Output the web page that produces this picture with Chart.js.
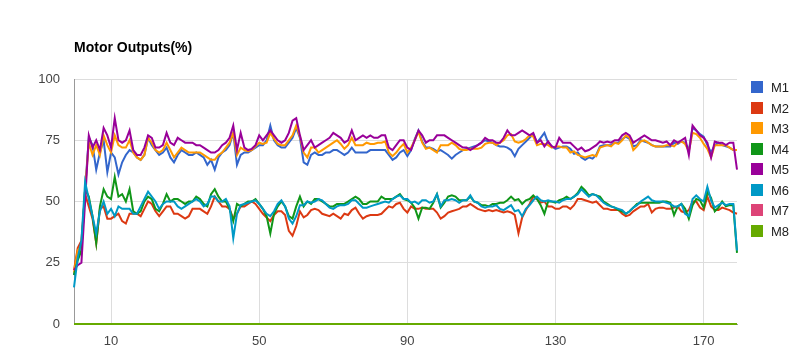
<!DOCTYPE html>
<html>
<head>
<meta charset="utf-8">
<title>Motor Outputs</title>
<script src="https://cdn.jsdelivr.net/npm/chart.js@4.4.1/dist/chart.umd.min.js"></script>
<style>
  html, body { margin: 0; padding: 0; background: #fff; }
</style>
</head>
<body>
<canvas id="chart" width="809" height="354"></canvas>
<script>
const chartTitle = 'Motor Outputs(%)';
const seriesNames = ['M1', 'M2', 'M3', 'M4', 'M5', 'M6', 'M7', 'M8'];
const seriesColors = ['#3366cc', '#dc3912', '#ff9900', '#109618', '#990099', '#0099c6', '#dd4477', '#66aa00'];
const xTicks = [10, 50, 90, 130, 170];
const yTicks = [0, 25, 50, 75, 100];

const m1 = [
  20, 28, 30, 55, 76, 73, 63, 70, 75, 62,
  70, 68, 61, 66, 69, 71, 70, 68, 67, 69,
  76, 73, 71, 69, 70, 72, 68, 66, 69, 71,
  70, 69, 69, 70, 69, 68, 65, 67, 63, 68,
  70, 71, 73, 78, 65, 69, 70, 70, 71, 72,
  73, 73, 75, 81, 75, 73, 72, 72, 74, 76,
  80, 76, 66, 65, 69, 70, 69, 69, 70, 70,
  71, 71, 70, 69, 70, 72, 70, 70, 70, 70,
  71, 71, 71, 71, 71, 69, 67, 68, 70, 71,
  68.5, 71, 75.5, 79, 74.5, 72, 72, 71.5, 70.5, 71,
  70, 69, 67.5, 69, 70, 71, 71.5, 72, 72.5, 73,
  74, 75, 74.5, 74, 73, 72.5, 72.5, 72, 71, 68.5,
  71.5, 73, 74.5, 76, 77.5, 74, 76, 78, 74, 72.5,
  71.5, 72, 72.5, 72.5, 71.5, 69.5, 70, 68, 67, 68,
  67.5, 69, 72.5, 73, 73, 73, 74, 74, 75.5, 76.5,
  75.5, 72.5, 73, 75, 74.5, 74, 73, 72.5, 72.5, 72.5,
  72.5, 72.5, 74, 73.5, 74.5, 74, 71, 80, 79, 77.5,
  76.5, 73, 70, 73, 74, 73, 72.5, 72, 71, 71
];

const m2 = [
  22, 31, 34, 53, 48, 43, 33, 47, 48, 43,
  43, 44, 45, 42, 41, 45, 45, 45, 44, 47,
  50, 49, 46, 44, 46, 48, 48, 45, 45, 44,
  43, 44, 47, 47, 47, 46, 45, 48, 52, 50,
  48, 48, 47, 43, 45, 48, 48, 49, 50, 49,
  47, 45, 43.5, 42, 44.5, 46, 46, 44.5, 38, 36,
  40, 46, 43.5, 44.5, 46.5, 47, 46.5, 45, 44.5, 44,
  45, 44, 43, 45, 44.5, 46.5, 47.5, 45, 43, 44,
  44.5, 44.5, 44.5, 45, 46.5, 48, 47.5, 49, 49.5, 47,
  45.5, 48, 47, 47, 47.5, 47, 47, 47, 45.5, 43,
  44, 45.5, 46, 46.5, 47, 48, 48, 49, 48, 47,
  46.5, 46, 46.5, 46, 46.5, 46, 45.5, 46, 45.5, 44.5,
  37, 43.5, 46.5, 49, 52, 51, 49.5, 50, 48, 48,
  47, 47, 48, 48, 47, 48.5, 51, 51, 50.5, 50,
  49.5, 50, 48.5, 47, 47, 46.5, 46.5, 46.5, 45, 44,
  44.5, 46, 47, 48, 48, 49, 45.5, 47, 47.5, 47.5,
  47, 47, 47.5, 48, 46, 45.5, 46.5, 50, 50, 47.5,
  46.5, 52, 48, 46.5, 46.5, 47.5, 47, 46.5, 45.5, 45
];

const m3 = [
  21, 30, 32, 55, 74, 69, 73, 69, 77, 73,
  70, 77, 73, 72, 72, 75, 70, 68, 67, 69,
  76, 74, 71, 70, 71, 74, 71, 68, 70, 72,
  71, 70, 70, 70, 70, 69, 68, 67, 67, 69,
  70, 72, 74, 78, 69, 72, 71, 70.5, 71, 72.5,
  74, 73.5, 74, 78, 75.5, 73.5, 73, 73, 75, 77,
  81, 76.5, 70, 68, 72, 72, 70, 71, 72, 73,
  74, 75, 73.5, 71.5, 73, 76, 73, 73, 73, 74,
  73.5, 73.5, 74, 74, 74.5, 70, 68.5, 70, 72, 73.5,
  70, 72, 75, 78.5, 74, 71.5, 72, 71, 70, 73,
  73, 73, 74, 73, 71.5, 71, 71, 71.5, 71.5, 71.5,
  72, 73.5, 74, 74, 73, 74, 75, 77, 77.5, 74.5,
  74, 74.5, 75.5, 77, 76.5, 73, 73.5, 73.5, 73, 72,
  72.5, 72.5, 72, 72, 70, 70.5, 69, 68.5, 68, 68.5,
  69, 68.5, 72, 72.5, 73, 72.5, 74, 73.5, 75, 77,
  76, 71, 72.5, 74.5, 75, 74, 73, 72.5, 72.5, 72.5,
  73, 73, 72.5, 74, 74.5, 73.5, 70.5, 78, 77.5, 76,
  73.5, 71.5, 68, 73, 73, 73, 73, 72, 71, 71
];

const m4 = [
  20, 26, 30, 55, 52, 44, 33, 48, 55, 52,
  51, 60, 52, 53, 50, 55, 46, 45, 46, 50,
  52, 51, 47, 46, 49, 53, 50, 51, 51, 50,
  49, 50, 50, 52, 51, 49, 48, 53, 55, 52,
  50, 50, 47, 42, 49, 48, 49, 50, 50, 51,
  49, 47, 44, 37, 45, 48, 50, 48, 44, 43,
  48, 52, 48, 50, 49, 51, 51, 50, 49, 48,
  48, 49, 49, 49, 50, 51, 52, 51, 49, 49,
  50, 50, 50, 52, 51, 51, 51, 52, 53, 51,
  50.5, 49.5, 47.5, 43, 47.5, 47.5, 47, 49.5, 53, 47.5,
  49.5, 52, 52.5, 52, 50.5, 50.5, 50.5, 52, 50, 49.5,
  48.5, 48.5, 48, 49, 49, 49.5, 49.5, 50.5, 52, 50.5,
  51, 49, 50.5, 51, 52.5, 51, 48.5, 45, 50, 50,
  49.5, 50.5, 51, 52, 51, 52, 53.5, 56, 54.5, 52.5,
  53, 52.5, 52, 50, 49, 48, 47.5, 46.5, 46, 45,
  46, 47.5, 49, 49.5, 49.5, 49.5, 49.5, 49.5, 49.5, 50,
  50, 49.5, 44.5, 48, 49, 47, 43, 48.5, 51, 50.5,
  47.5, 54, 51.5, 46, 47.5, 50, 48, 48.5, 48.5, 29
];

const m5 = [
  22, 24, 25, 50, 77, 72, 75, 71, 80, 77,
  72, 84, 75, 74, 75, 79, 71, 69, 69, 72,
  77, 76, 72, 72, 73, 78, 74, 73, 76, 75,
  74, 74, 74, 73, 73, 72, 71, 70, 70, 71,
  73, 74, 76, 81, 71, 78, 72, 71, 71.5, 73,
  77, 75, 77, 79, 77, 75, 74, 75, 78, 83,
  84, 77, 71, 73, 75, 72, 73, 74, 75, 76,
  78, 77, 76, 74, 75, 79, 75, 76, 77, 76,
  77, 76, 76, 77, 77, 72, 71, 73, 75, 75,
  72, 71, 75, 79, 77, 74, 75, 75, 77, 77,
  77, 76, 75, 74, 73, 72, 72, 71, 72, 73,
  74, 76, 75, 75, 74, 74, 76, 79, 77, 77,
  78, 79, 78, 77, 78, 74, 75, 72.5, 74.5, 72.5,
  72, 76, 74, 74, 74, 72.5, 71, 72, 70.5, 71,
  72, 73, 74.5, 74, 74.5, 74, 75, 75, 77, 78,
  77, 74, 75, 76, 77, 76, 75, 75, 74.5, 74,
  74.5, 73, 75, 74, 75, 76, 69, 81, 79, 77,
  76, 74, 68, 74.5, 74, 74, 73, 74, 74, 63
];

const m6 = [
  15, 27, 34, 58, 51, 44, 37, 46, 50, 45,
  47, 44, 48, 47, 47, 47, 45, 45, 48, 51,
  54, 52, 50, 47, 49, 50, 50, 50, 48, 47,
  48, 49, 50, 51, 50, 48, 49, 52, 52, 50,
  50, 51, 48, 35, 45, 48.5, 49, 49.5, 50, 50.5,
  49, 47, 45, 44, 46, 49, 50.5, 48, 43, 41,
  44, 48.5, 48.5, 50, 49.5, 50, 51, 50.5, 49, 47.5,
  47, 48, 48.5, 48.5, 49, 50.5, 50.5, 49, 47.5, 47.5,
  48, 48.5, 49, 49.5, 50, 49.5, 51, 52, 52.5, 51,
  51, 49.5, 50, 49, 50.5, 50.5, 49.5, 50, 53, 48,
  50.5, 50.5, 51, 50.5, 49.5, 50.5, 50.5, 52.5, 50, 49.5,
  48, 47.5, 48, 48, 48.5, 47, 46.5, 47.5, 48.5, 46,
  46.5, 44, 47, 48.5, 50.5, 52, 50.5, 50, 50.5, 50,
  50, 49.5, 50.5, 51, 51, 52, 53, 55, 53.5, 52,
  53, 52.5, 51, 49.5, 48.5, 48, 47.5, 47, 46.5, 45,
  46, 47.5, 48.5, 50, 51, 52, 50.5, 50, 50, 50,
  49.5, 49, 48, 48, 49, 45, 44, 51, 52.5, 51,
  50, 56, 50.5, 47.5, 48.5, 49.5, 48.5, 49, 49, 30
];

// M7 and M8 sit flat on zero the whole run
const m7 = [
  0, 0, 0, 0, 0, 0, 0, 0, 0, 0, 0, 0, 0, 0, 0, 0, 0, 0, 0, 0,
  0, 0, 0, 0, 0, 0, 0, 0, 0, 0, 0, 0, 0, 0, 0, 0, 0, 0, 0, 0,
  0, 0, 0, 0, 0, 0, 0, 0, 0, 0, 0, 0, 0, 0, 0, 0, 0, 0, 0, 0,
  0, 0, 0, 0, 0, 0, 0, 0, 0, 0, 0, 0, 0, 0, 0, 0, 0, 0, 0, 0,
  0, 0, 0, 0, 0, 0, 0, 0, 0, 0, 0, 0, 0, 0, 0, 0, 0, 0, 0, 0,
  0, 0, 0, 0, 0, 0, 0, 0, 0, 0, 0, 0, 0, 0, 0, 0, 0, 0, 0, 0,
  0, 0, 0, 0, 0, 0, 0, 0, 0, 0, 0, 0, 0, 0, 0, 0, 0, 0, 0, 0,
  0, 0, 0, 0, 0, 0, 0, 0, 0, 0, 0, 0, 0, 0, 0, 0, 0, 0, 0, 0,
  0, 0, 0, 0, 0, 0, 0, 0, 0, 0, 0, 0, 0, 0, 0, 0, 0, 0, 0, 0
];

const m8 = [
  0, 0, 0, 0, 0, 0, 0, 0, 0, 0, 0, 0, 0, 0, 0, 0, 0, 0, 0, 0,
  0, 0, 0, 0, 0, 0, 0, 0, 0, 0, 0, 0, 0, 0, 0, 0, 0, 0, 0, 0,
  0, 0, 0, 0, 0, 0, 0, 0, 0, 0, 0, 0, 0, 0, 0, 0, 0, 0, 0, 0,
  0, 0, 0, 0, 0, 0, 0, 0, 0, 0, 0, 0, 0, 0, 0, 0, 0, 0, 0, 0,
  0, 0, 0, 0, 0, 0, 0, 0, 0, 0, 0, 0, 0, 0, 0, 0, 0, 0, 0, 0,
  0, 0, 0, 0, 0, 0, 0, 0, 0, 0, 0, 0, 0, 0, 0, 0, 0, 0, 0, 0,
  0, 0, 0, 0, 0, 0, 0, 0, 0, 0, 0, 0, 0, 0, 0, 0, 0, 0, 0, 0,
  0, 0, 0, 0, 0, 0, 0, 0, 0, 0, 0, 0, 0, 0, 0, 0, 0, 0, 0, 0,
  0, 0, 0, 0, 0, 0, 0, 0, 0, 0, 0, 0, 0, 0, 0, 0, 0, 0, 0, 0
];

const seriesValues = [m1, m2, m3, m4, m5, m6, m7, m8];
// sample number of every reading, used as the x value
const samples = m1.map((_, i) => i);

Chart.defaults.font.family = 'Arial, "Liberation Sans", sans-serif';

// Title and legend are placed by hand like the original chart
const titleAndLegend = {
  id: 'titleAndLegend',
  afterDraw(chart) {
    const ctx = chart.ctx;
    ctx.save();
    ctx.textBaseline = 'middle';
    ctx.textAlign = 'left';
    ctx.font = 'bold 14px Arial, "Liberation Sans", sans-serif';
    ctx.fillStyle = '#000';
    ctx.fillText(chartTitle, 74, 48);

    ctx.font = '13px Arial, "Liberation Sans", sans-serif';
    seriesNames.forEach((name, i) => {
      const y = 87 + i * 20.5;
      ctx.fillStyle = seriesColors[i];
      ctx.fillRect(751, Math.round(y - 6), 12, 12);
      ctx.fillStyle = '#222';
      ctx.fillText(name, 771, Math.round(y) + 1);
    });
    ctx.restore();
  }
};

const datasets = seriesNames.map((name, i) => ({
  label: name,
  data: seriesValues[i],
  borderColor: seriesColors[i],
  backgroundColor: seriesColors[i],
  borderWidth: 2,
  pointRadius: 0,
  tension: 0,
  fill: false,
  clip: 2,                        // let the zero lines show full width on the baseline
  order: seriesNames.length - i,  // later series drawn on top
}));

const ctx = document.getElementById('chart').getContext('2d');
const motorChart = new Chart(ctx, {
  type: 'line',
  data: {
    labels: samples,
    datasets: datasets,
  },
  options: {
    responsive: false,
    animation: false,
    layout: {
      padding: { top: 79, right: 72, bottom: 0, left: 0 },
    },
    plugins: {
      legend: { display: false },
      title: { display: false },
      tooltip: { enabled: false },
    },
    scales: {
      x: {
        type: 'linear',
        min: 0,
        max: 179,
        afterBuildTicks: scale => {
          scale.ticks = xTicks.map(v => ({ value: v }));
        },
        afterFit: scale => {
          scale.height = 30;
        },
        grid: { color: '#dddddd', drawTicks: false },
        border: { color: '#999999' },
        ticks: {
          padding: 10,
          color: '#444444',
          font: { size: 13 },
          maxRotation: 0,
        },
      },
      y: {
        min: 0,
        max: 100,
        afterBuildTicks: scale => {
          scale.ticks = yTicks.map(v => ({ value: v }));
        },
        afterFit: scale => {
          scale.width = 74;
        },
        grid: { color: '#dddddd', drawTicks: false },
        border: { color: '#999999' },
        ticks: {
          padding: 14,
          color: '#444444',
          font: { size: 13 },
        },
      },
    },
  },
  plugins: [titleAndLegend],
});
</script>
</body>
</html>
